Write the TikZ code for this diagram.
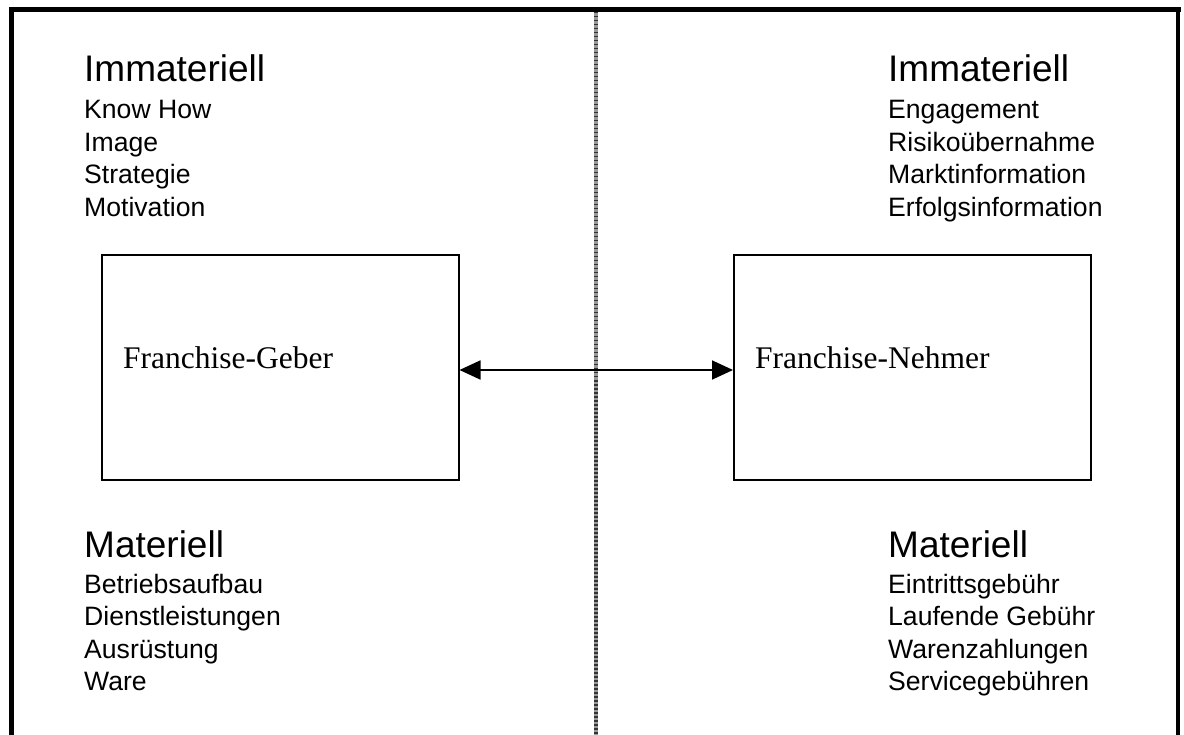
\documentclass[tikz,border=0pt]{standalone}
\usepackage{fontspec}
\setmainfont{Liberation Sans}
\newfontfamily\serifschrift{Liberation Serif}
\usetikzlibrary{arrows.meta}

\begin{document}
\begin{tikzpicture}[x=1pt, y=-1pt, >={Triangle[length=21pt,width=19pt]},
    titel/.style={anchor=base west, inner sep=0pt, font=\fontsize{37}{44}\selectfont},
    eintrag/.style={anchor=base west, inner sep=0pt, font=\fontsize{26.6}{32}\selectfont},
    kasten/.style={draw, line width=2pt, minimum width=357pt, minimum height=225pt, inner sep=0pt},
    kastentext/.style={anchor=base west, inner sep=0pt, font=\serifschrift\fontsize{31.5}{38}\selectfont}]
    \useasboundingbox (0,0) rectangle (1184,735);

    % Rahmen (unten offen)
    \coordinate (OL) at (11.5,9.5);
    \coordinate (OR) at (1178,9.5);
    \coordinate (UL) at (11.5,735);
    \coordinate (UR) at (1178,735);
    \draw[line width=5pt] (9,9.5) -- (1180.5,9.5);
    \draw[line width=5pt] (OL) -- (UL);
    \draw[line width=4pt] (OR) -- (UR);

    % Trennlinie in der Mitte
    \coordinate (MO) at (596,12);
    \coordinate (MU) at (596,735);
    \draw[line width=3.5pt, black!40] (MO) -- (MU);
    \draw[line width=3.5pt, black!80, dash pattern=on 1.5pt off 2.5pt] (MO) -- (MU);

    % Linke Seite: Immateriell
    \node[titel] (IL) at (84,82) {Immateriell};
    \node[eintrag] (IL1) at (84,119) {Know How};
    \node[eintrag] (IL2) at (84,151.5) {Image};
    \node[eintrag] (IL3) at (84,184) {Strategie};
    \node[eintrag] (IL4) at (84,216.5) {Motivation};

    % Rechte Seite: Immateriell
    \node[titel] (IR) at (888,82) {Immateriell};
    \node[eintrag] (IR1) at (888,119) {Engagement};
    \node[eintrag] (IR2) at (888,151.5) {Risikoübernahme};
    \node[eintrag] (IR3) at (888,184) {Marktinformation};
    \node[eintrag] (IR4) at (888,216.5) {Erfolgsinformation};

    % Kaesten
    \node[kasten] (geber) at (280,367.5) {};
    \node[kasten] (nehmer) at (912.5,367.5) {};
    \node[kastentext] (geberText) at (123,369) {Franchise-Geber};
    \node[kastentext] (nehmerText) at (755,369) {Franchise-Nehmer};

    % Pfeil zwischen Geber und Nehmer
    \draw[<->, line width=1.8pt] ([yshift=-2.5pt]geber.east) -- ([yshift=-2.5pt]nehmer.west);

    % Linke Seite: Materiell
    \node[titel] (ML) at (84,557) {Materiell};
    \node[eintrag] (ML1) at (84,593) {Betriebsaufbau};
    \node[eintrag] (ML2) at (84,625.5) {Dienstleistungen};
    \node[eintrag] (ML3) at (84,658) {Ausrüstung};
    \node[eintrag] (ML4) at (84,690.5) {Ware};

    % Rechte Seite: Materiell
    \node[titel] (MR) at (888,557) {Materiell};
    \node[eintrag] (MR1) at (888,593) {Eintrittsgebühr};
    \node[eintrag] (MR2) at (888,625.5) {Laufende Gebühr};
    \node[eintrag] (MR3) at (888,658) {Warenzahlungen};
    \node[eintrag] (MR4) at (888,690.5) {Servicegebühren};
\end{tikzpicture}
\end{document}
